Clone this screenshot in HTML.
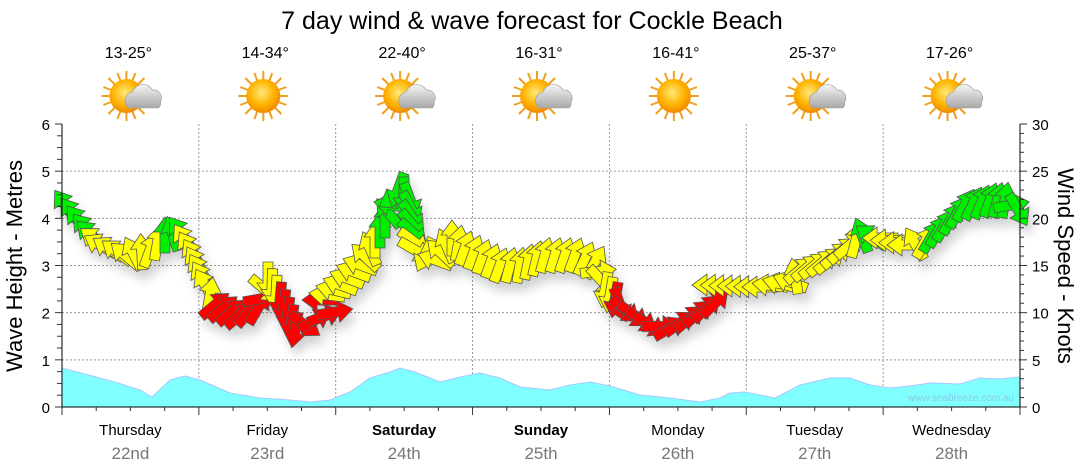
<!DOCTYPE html>
<html><head><meta charset="utf-8"><style>
html,body{margin:0;padding:0;background:#fff;width:1080px;height:475px;overflow:hidden}
svg{font-family:"Liberation Sans",sans-serif}
</style></head><body>
<svg id="s" width="1080" height="475" viewBox="0 0 1080 475" xmlns="http://www.w3.org/2000/svg">
<defs>
<filter id="sh" x="-20%" y="-20%" width="140%" height="160%"><feDropShadow dx="4" dy="8" stdDeviation="5" flood-color="#000" flood-opacity="0.18"/></filter>
<radialGradient id="sun" cx="45%" cy="40%" r="60%"><stop offset="0" stop-color="#ffe97a"/><stop offset="0.6" stop-color="#ffb300"/><stop offset="1" stop-color="#f08a00"/></radialGradient>
<linearGradient id="cl" x1="0" y1="0" x2="0" y2="1"><stop offset="0" stop-color="#f4f4f4"/><stop offset="1" stop-color="#a8a8a8"/></linearGradient>
<g id="sunI"><g stroke="#f0a020" stroke-width="2"><line x1="0" y1="-25" x2="0" y2="25"/><line x1="-25" y1="0" x2="25" y2="0"/><line x1="-18" y1="-18" x2="18" y2="18"/><line x1="-18" y1="18" x2="18" y2="-18"/><line x1="-9" y1="-23" x2="9" y2="23"/><line x1="-23" y1="-9" x2="23" y2="9"/><line x1="-9" y1="23" x2="9" y2="-23"/><line x1="-23" y1="9" x2="23" y2="-9"/></g><circle r="17" fill="url(#sun)"/></g>
<g id="cloud"><path d="M2,12 a9,9 0 0 1 4,-16 a11,11 0 0 1 20,-2 a8,8 0 0 1 8,12 a6,6 0 0 1 -2,6 z" fill="url(#cl)" stroke="#999" stroke-width="0.6"/></g>
</defs>
<text x="532" y="29" font-size="25" text-anchor="middle" fill="#000">7 day wind &amp; wave forecast for Cockle Beach</text>
<g id="grid"></g>
<g id="wave"></g>
<g id="arr" filter="url(#sh)"></g>
<g id="axes"></g>
<text x="1014" y="401" font-size="10" fill="#8cc8e8" text-anchor="end">www.seabreeze.com.au</text>
<text transform="translate(22,266) rotate(-90)" font-size="22" text-anchor="middle">Wave Height - Metres</text>
<text transform="translate(1058,266) rotate(90)" font-size="22" text-anchor="middle">Wind Speed - Knots</text>
</svg>
<script>
var s=document.getElementById('s'),NS='http://www.w3.org/2000/svg';
function el(p,t,a,txt){var e=document.createElementNS(NS,t);for(var k in a)e.setAttribute(k,a[k]);if(txt!=null)e.textContent=txt;p.appendChild(e);return e;}
var X0=62,X1=1020,Y0=407,Y6=124,DW=(X1-X0)/7;
var g=document.getElementById('grid'),ax=document.getElementById('axes');
for(var i=1;i<6;i++){var y=Y0-i*(Y0-Y6)/6;el(g,'line',{x1:X0,x2:X1,y1:y,y2:y,stroke:'#999','stroke-dasharray':'2,2','stroke-width':1});}
for(var d=1;d<7;d++){var x=X0+d*DW;el(g,'line',{x1:x,x2:x,y1:Y6,y2:Y0,stroke:'#999','stroke-dasharray':'2,2','stroke-width':1});}
var wp=[[62,368],[100,378],[118,383],[140,390],[152,397],[170,380],[185,376],[200,380],[230,393],[260,398],[290,400],[310,402],[330,400],[350,392],[370,378],[390,372],[400,368],[415,372],[440,382],[460,377],[480,373],[500,378],[520,387],[550,390],[570,385],[590,382],[610,386],[640,395],[670,398],[700,402],[720,398],[730,393],[745,392],[760,395],[775,398],[800,385],[830,378],[850,378],[870,385],[890,388],[910,386],[930,383],[960,384],[980,378],[1000,379],[1020,377]];
var d='M62,407 ';wp.forEach(function(p){d+='L'+p[0]+','+p[1]+' ';});d+='L1020,407Z';
el(document.getElementById('wave'),'path',{d:d,fill:'#80ffff',stroke:'#a8c8ff','stroke-width':1});
el(ax,'line',{x1:X0,x2:X0,y1:Y6,y2:Y0,stroke:'#000'});
el(ax,'line',{x1:X1,x2:X1,y1:Y6,y2:Y0,stroke:'#000'});
el(ax,'line',{x1:X0,x2:X1,y1:Y0,y2:Y0,stroke:'#000'});
for(var i=0;i<=24;i++){var y=Y0-i*(Y0-Y6)/24;el(ax,'line',{x1:X0-(i%4?5:7),x2:X0,y1:y,y2:y,stroke:'#333'});if(i%4==0)el(ax,'text',{x:X0-12,y:y+6,'font-size':15,'text-anchor':'end'},i/4);}
for(var i=0;i<=30;i++){var y=Y0-i*(Y0-Y6)/30;el(ax,'line',{x1:X1,x2:X1+(i%5?4:7),y1:y,y2:y,stroke:'#333'});if(i%5==0)el(ax,'text',{x:X1+12,y:y+6,'font-size':15},i);}
for(var i=0;i<=28;i++){var x=X0+i*DW/4;el(ax,'line',{x1:x,x2:x,y1:Y0,y2:Y0+(i%4?4:8),stroke:'#333'});}
var days=['Thursday','Friday','Saturday','Sunday','Monday','Tuesday','Wednesday'],dates=['22nd','23rd','24th','25th','26th','27th','28th'],temps=['13-25°','14-34°','22-40°','16-31°','16-41°','25-37°','17-26°'],cloudy=[1,0,1,1,0,1,1];
for(var d=0;d<7;d++){var cx=X0+(d+0.5)*DW;
 el(ax,'text',{x:cx,y:435,'font-size':15,'text-anchor':'middle','font-weight':(d==2||d==3)?'bold':'normal'},days[d]);
 el(ax,'text',{x:cx,y:459,'font-size':17,'text-anchor':'middle',fill:'#777'},dates[d]);
 el(s,'text',{x:cx-2,y:58,'font-size':16,'text-anchor':'middle'},temps[d]);
 el(s,'use',{href:'#sunI',x:cx-4,y:96});
 if(cloudy[d])el(s,'use',{href:'#cloud',x:cx-4,y:96});
}
var segs=[
[[65,205,-125],[85,228,-130],[100,245,-150],[125,255,-140],[150,250,-70],[165,235,-90],[180,232,-125],[193,255,-120],[205,285,-120],[215,305,-40],[240,315,-40],[258,308,-60],[268,280,90],[280,300,95],[295,330,100],[315,320,-30],[335,312,-10]],
[[320,300,180],[340,285,200],[360,265,200],[375,240,-90],[385,220,-90],[398,190,110],[410,200,70],[415,250,30],[435,260,200],[452,238,-90],[465,248,-70],[500,265,-70],[520,265,-80],[545,255,-75],[575,255,-70],[595,262,-60],[605,290,100],[615,300,100],[625,310,40],[650,325,30],[670,328,-30],[690,318,-40],[715,303,-45]],
[[710,285,180],[760,287,180],[790,282,200],[800,270,-40],[830,260,-40],[850,245,-40],[862,235,-110],[880,238,180],[905,245,180],[925,242,-60],[945,225,-60],[965,205,-60],[990,200,-70],[1005,200,-80],[1018,210,60]]];
var A=document.getElementById('arr');
var AP='M18,0 L3,-11 L3,-5 L-18,-5 L-18,5 L3,5 L3,11 Z';
function col(y){return y<238?'#00ee00':(y<298?'#ffff00':'#ff0000');}
segs.forEach(function(sg){
 for(var k=0;k<sg.length-1;k++){var a=sg[k],b=sg[k+1];var n=Math.max(1,Math.round(Math.hypot(b[0]-a[0],b[1]-a[1])/9));
  for(var j=0;j<n;j++){var t=j/n;var x=a[0]+(b[0]-a[0])*t,y=a[1]+(b[1]-a[1])*t;var da=b[2]-a[2];if(da>180)da-=360;if(da<-180)da+=360;var an=a[2]+da*t;
   el(A,'path',{d:AP,fill:col(y),stroke:'#555','stroke-width':0.8,transform:'translate('+x.toFixed(1)+','+y.toFixed(1)+') rotate('+an.toFixed(1)+')'});}
 }
 var l=sg[sg.length-1];el(A,'path',{d:AP,fill:col(l[1]),stroke:'#555','stroke-width':0.8,transform:'translate('+l[0]+','+l[1]+') rotate('+l[2]+')'});
});
</script>
</body></html>
